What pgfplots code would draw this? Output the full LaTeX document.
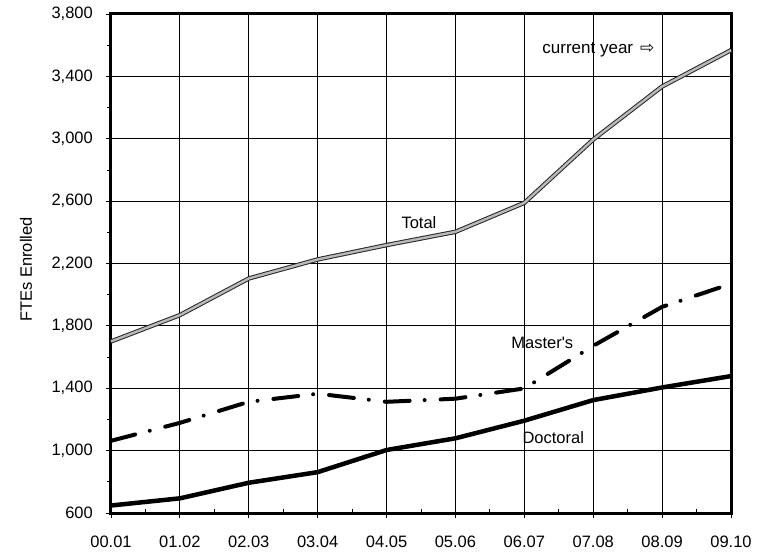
\documentclass[border=0pt]{standalone}
\usepackage{pgfplots}
\pgfplotsset{compat=1.18}
\usepackage{fontspec}
\setmainfont{Liberation Sans}
\newfontfamily\plainsans{Liberation Sans}
\newfontfamily\dejavu{DejaVu Sans}
\begin{document}
\begin{tikzpicture}[x=1pt,y=1pt]
\begin{axis}[
  scale only axis, width=620pt, height=499pt,
  xmin=0, xmax=9, ymin=600, ymax=3800,
  xtick={0,...,9},
  xticklabels={00.01,01.02,02.03,03.04,04.05,05.06,06.07,07.08,08.09,09.10},
  minor x tick num=1,
  ytick={600,1000,...,3800},
  minor y tick num=1,
  xtick pos=bottom, ytick pos=left,
  tick align=outside,
  major tick length=5pt, minor tick length=4pt,
  minor x tick style={yshift=4pt},
  grid=major,
  major grid style={black, line width=0.8pt},
  tick style={black, line width=0.8pt},
  axis line style={line width=3pt},
  clip=false,
  /pgf/number format/assume math mode=true,
  /pgf/number format/1000 sep={,},
  ticklabel style={font=\fontsize{16.5}{19}\selectfont},
  yticklabel style={inner sep=0pt, xshift=-13pt},
  xticklabel style={inner sep=0pt, yshift=-18pt},
  ylabel={FTEs Enrolled},
  every axis y label/.style={at={(axis description cs:-0.137,0.488)}, rotate=90, anchor=center, font=\fontsize{16.5}{19}\selectfont},
]
\path (axis description cs:-0.17903,-0.07615) rectangle (axis description cs:1.05323,1.02806);
\addplot[black!85, line width=1pt, double=gray!55, double distance=2.4pt] coordinates {
(0,1700) (1,1869) (2,2104) (3,2226) (4,2318) (5,2403) (6,2589) (7,2995) (8,3335) (9,3568)};
\addplot[black, line width=4pt, line cap=round, dash pattern=on 25pt off 15pt on 0.01pt off 16pt] coordinates {
(0,1063) (1,1178) (2,1313) (3,1365) (4,1313) (5,1333) (6,1399) (7,1672) (8,1922) (9,2070)};
\addplot[black, line width=4.5pt] coordinates {
(0,648) (1,694) (2,794) (3,862) (4,1004) (5,1079) (6,1192) (7,1324) (8,1405) (9,1478)};
\node[font=\fontsize{16.5}{19}\selectfont] at (axis cs:4.47,2465) {Total};
\node[font=\fontsize{16.5}{19}\selectfont] at (axis cs:6.26,1690) {\plainsans Master's};
\node[font=\fontsize{16.5}{19}\selectfont] at (axis cs:6.42,1081) {Doctoral};
\node[font=\fontsize{17}{19}\selectfont, anchor=west, inner sep=0pt] at (axis cs:6.26,3572) {current year\hspace{7pt}{\dejavu\fontsize{17}{19}\selectfont ⇨}};
\end{axis}
\end{tikzpicture}
\end{document}
